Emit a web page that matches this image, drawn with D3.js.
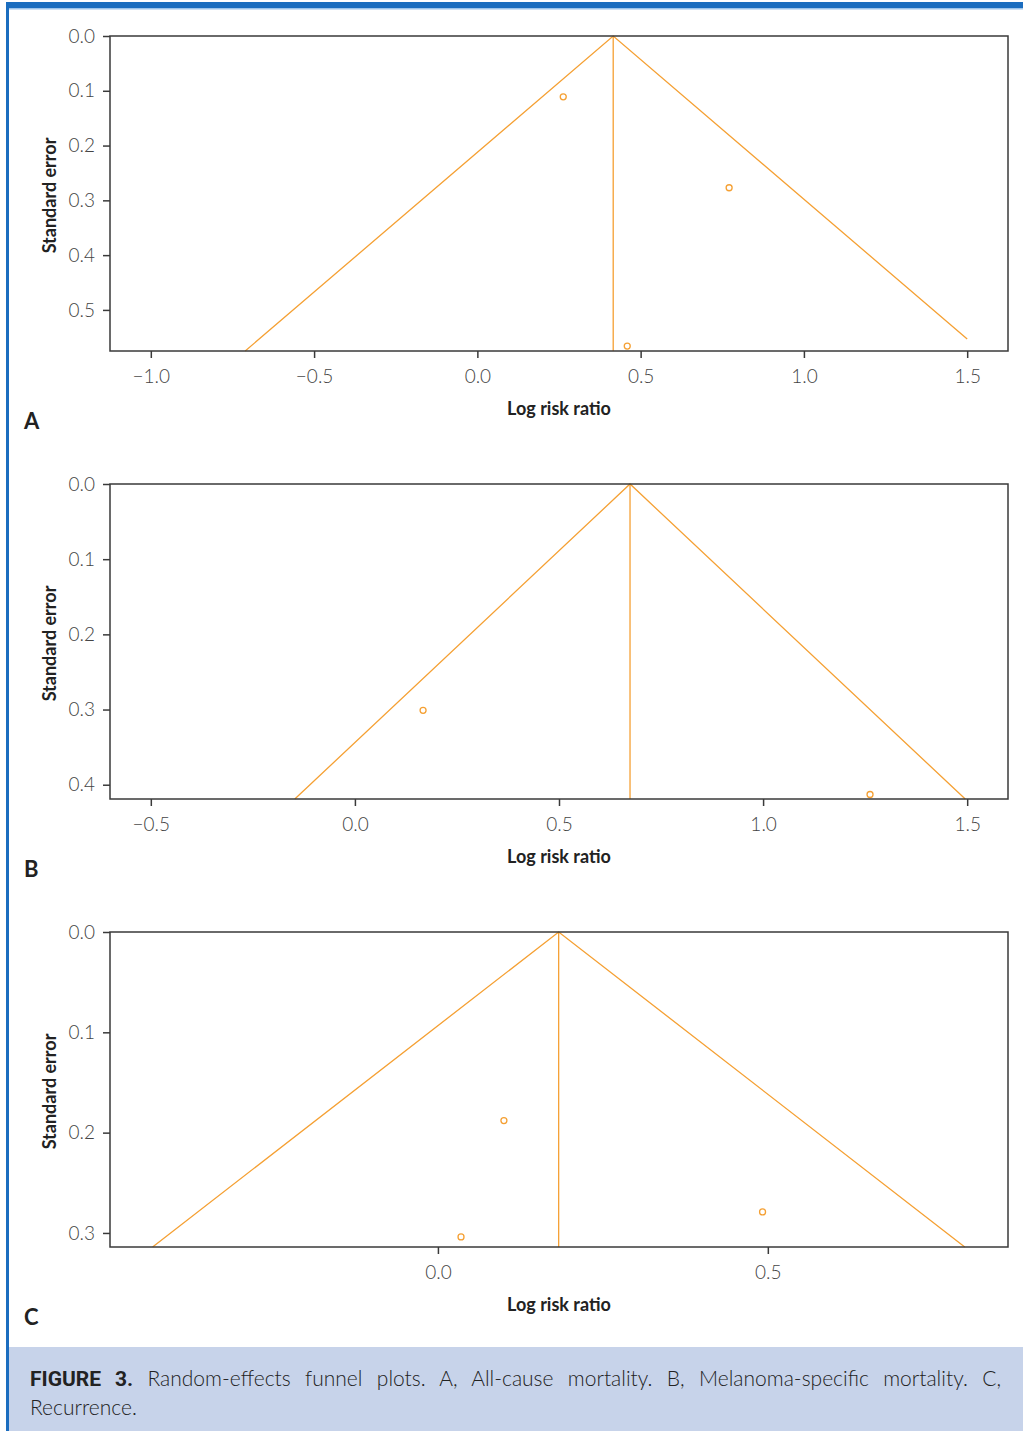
<!DOCTYPE html>
<html>
<head>
<meta charset="utf-8">
<script src="https://cdn.jsdelivr.net/npm/d3@7"></script>
<style>
  body { margin: 0; background: #fff; }
</style>
</head>
<body>
<svg id="chart" width="1023" height="1431"></svg>
<script>
(function() {

// ---- data ----
var panelLabels = ["A", "B", "C"];

// pooled log risk ratio (vertical line / funnel apex)
var pooledEstimates = [0.416, 0.674, 0.183];

// study points: log risk ratio and standard error
var studyLrrA = [0.263, 0.771, 0.459];
var studySeA  = [0.111, 0.277, 0.566];
var studyLrrB = [0.167, 1.262];
var studySeB  = [0.301, 0.413];
var studyLrrC = [0.100, 0.035, 0.492];
var studySeC  = [0.188, 0.304, 0.279];

// axis ranges and ticks
var xDomainA = [-1.125, 1.625], xTicksA = [-1.0, -0.5, 0.0, 0.5, 1.0, 1.5];
var yDomainA = [0, 0.575],      yTicksA = [0.0, 0.1, 0.2, 0.3, 0.4, 0.5];
var xDomainB = [-0.6, 1.6],     xTicksB = [-0.5, 0.0, 0.5, 1.0, 1.5];
var yDomainB = [0, 0.419],      yTicksB = [0.0, 0.1, 0.2, 0.3, 0.4];
var xDomainC = [-0.497, 0.864], xTicksC = [0.0, 0.5];
var yDomainC = [0, 0.314],      yTicksC = [0.0, 0.1, 0.2, 0.3];

// funnel side lines are cut off at these x limits
var funnelClipA = [-Infinity, 1.5];
var funnelClipB = [-Infinity, Infinity];
var funnelClipC = [-Infinity, Infinity];

var captionBold  = "FIGURE 3.";
var captionLine1 = "Random-effects funnel plots. A, All-cause mortality. B, Melanoma-specific mortality. C,";
var captionLine2 = "Recurrence.";

var panels = [
    { lrr: studyLrrA, se: studySeA, xDomain: xDomainA, xTicks: xTicksA, yDomain: yDomainA, yTicks: yTicksA, clip: funnelClipA },
    { lrr: studyLrrB, se: studySeB, xDomain: xDomainB, xTicks: xTicksB, yDomain: yDomainB, yTicks: yTicksB, clip: funnelClipB },
    { lrr: studyLrrC, se: studySeC, xDomain: xDomainC, xTicks: xTicksC, yDomain: yDomainC, yTicks: yTicksC, clip: funnelClipC }
];

var orange = "#f5a033",
    frame  = "#3a3a3a",
    tickTextColor = "#444",
    labelFont = "Lato, 'Open Sans', sans-serif";

var svg = d3.select("#chart");

// page frame: blue rule on top and left, caption box
svg.append("rect").attr("x", 9).attr("y", 1347).attr("width", 1014).attr("height", 84).attr("fill", "#c7d3ea");
svg.append("rect").attr("x", 6).attr("y", 2).attr("width", 1017).attr("height", 6).attr("fill", "#1b6dbf");
svg.append("rect").attr("x", 6).attr("y", 2).attr("width", 3).attr("height", 1429).attr("fill", "#1b6dbf");
svg.append("rect").attr("x", 9).attr("y", 8).attr("width", 1014).attr("height", 1.5).attr("fill", "#9cc3ea");

// plot box geometry, one row per panel
var plotLeft = 110, plotRight = 1008;
var plotTops = [36, 484, 932];
var plotHeight = 315;

/**
 * Draw one funnel plot panel.
 */
var drawPanel = function(p, i) {
    var top = plotTops[i];
    var g = svg.append("g").attr("transform", "translate(" + plotLeft + "," + top + ")");
    var w = plotRight - plotLeft, h = plotHeight;

    var x = d3.scaleLinear().domain(p.xDomain).range([0, w]);
    var y = d3.scaleLinear().domain(p.yDomain).range([0, h]);

    var pooled = pooledEstimates[i];
    var seMax = p.yDomain[1];

    // funnel side: from apex to bottom, cut at clip x
    var sideEnd = function(sign) {
        var xe = pooled + sign * 1.96 * seMax;
        var lim = sign < 0 ? p.clip[0] : p.clip[1];
        if ((sign < 0 && xe < lim) || (sign > 0 && xe > lim)) {
            return [lim, Math.abs(lim - pooled) / 1.96];
        }
        return [xe, seMax];
    };

    var line = d3.line().x(function(d) { return x(d[0]); }).y(function(d) { return y(d[1]); });
    g.append("path").datum([sideEnd(-1), [pooled, 0], sideEnd(1)])
        .attr("d", line).attr("fill", "none").attr("stroke", orange).attr("stroke-width", 1.3);
    g.append("path").datum([[pooled, 0], [pooled, seMax]])
        .attr("d", line).attr("fill", "none").attr("stroke", orange).attr("stroke-width", 1.3);

    // study points
    g.selectAll("circle.study").data(p.lrr).enter().append("circle")
        .attr("class", "study")
        .attr("cx", function(d) { return x(d); })
        .attr("cy", function(d, j) { return y(p.se[j]); })
        .attr("r", 3)
        .attr("fill", "none").attr("stroke", orange).attr("stroke-width", 1.3);

    // frame box
    g.append("rect").attr("width", w).attr("height", h)
        .attr("fill", "none").attr("stroke", frame).attr("stroke-width", 1.5);

    // axes
    var yAxis = d3.axisLeft(y).tickValues(p.yTicks).tickFormat(d3.format(".1f")).tickSize(7).tickPadding(8);
    var xAxis = d3.axisBottom(x).tickValues(p.xTicks).tickFormat(function(d) {
                    return d3.format(".1f")(d).replace("-", "\u2212");
                }).tickSize(7).tickPadding(12);

    var yg = g.append("g").call(yAxis);
    var xg = g.append("g").attr("transform", "translate(0," + h + ")").call(xAxis);
    [yg, xg].forEach(function(a) {
        a.select(".domain").remove();
        a.selectAll(".tick line").attr("stroke", frame).attr("stroke-width", 1.5);
        a.selectAll(".tick text")
            .attr("fill", tickTextColor)
            .style("font-family", labelFont)
            .style("font-weight", 300)
            .style("font-size", "19px");
    });

    // axis titles
    g.append("text")
        .attr("transform", "translate(-54," + (h / 2 + 2) + ") rotate(-90)")
        .attr("text-anchor", "middle")
        .attr("fill", "#222")
        .style("font-family", labelFont).style("font-weight", 700).style("font-size", "18px")
        .text("Standard error");
    g.append("text")
        .attr("x", w / 2).attr("y", h + 64)
        .attr("text-anchor", "middle")
        .attr("fill", "#222")
        .style("font-family", labelFont).style("font-weight", 700).style("font-size", "18px")
        .text("Log risk ratio");

    // panel letter
    svg.append("text")
        .attr("x", 24).attr("y", top + h + 78)
        .attr("fill", "#222")
        .style("font-family", labelFont).style("font-weight", 700).style("font-size", "22px")
        .text(panelLabels[i]);
};

panels.forEach(drawPanel);

// caption, first line justified to the box width
var capLeft = 30, capWidth = 971;
var cap1 = svg.append("text")
    .attr("x", capLeft).attr("y", 1386)
    .attr("fill", "#222")
    .style("font-family", labelFont).style("font-weight", 300).style("font-size", "21px");
cap1.append("tspan").style("font-family", "Roboto, sans-serif").style("font-weight", 700).text(captionBold);
cap1.append("tspan").text(" " + captionLine1);
var natural = cap1.node().getComputedTextLength();
var gaps = (captionBold + " " + captionLine1).split(" ").length - 1;
cap1.style("word-spacing", ((capWidth - natural) / gaps) + "px");

svg.append("text")
    .attr("x", capLeft).attr("y", 1415)
    .attr("fill", "#222")
    .style("font-family", labelFont).style("font-weight", 300).style("font-size", "21px")
    .text(captionLine2);
})();
</script>
</body>
</html>
